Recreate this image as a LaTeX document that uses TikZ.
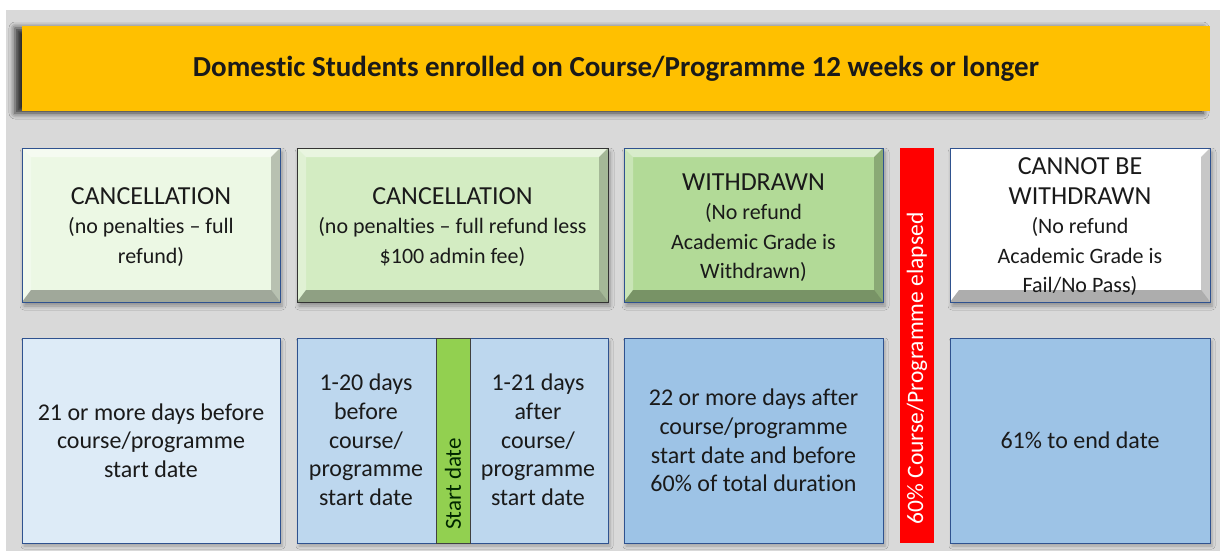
\documentclass[tikz,border=0pt]{standalone}
\usepackage{fontspec}
\setmainfont{Carlito}[Ligatures={NoCommon}]
\usetikzlibrary{shadows.blur,calc}
\definecolor{bggray}{HTML}{D9D9D9}
\definecolor{gold}{HTML}{FFC000}
\definecolor{gA}{HTML}{ECF8E4}
\definecolor{gB}{HTML}{D3ECC2}
\definecolor{gC}{HTML}{B2DA97}
\definecolor{bA}{HTML}{DDEBF7}
\definecolor{bB}{HTML}{BDD7EE}
\definecolor{bC}{HTML}{9DC3E6}
\definecolor{bordblue}{HTML}{2F528F}
\definecolor{strip}{HTML}{92D050}
\definecolor{txt}{HTML}{1A1A1A}
\newcommand\mybevel[1]{%
  \fill[white,opacity=.5] (#1.north west) -- (#1.north east) -- ($(#1.north east)+(-9,9)$) -- ($(#1.north west)+(9,9)$) -- cycle;
  \fill[white,opacity=.3] (#1.north west) -- (#1.south west) -- ($(#1.south west)+(9,-12)$) -- ($(#1.north west)+(9,9)$) -- cycle;
  \fill[black,opacity=.22] (#1.north east) -- (#1.south east) -- ($(#1.south east)+(-9,-12)$) -- ($(#1.north east)+(-9,9)$) -- cycle;
  \fill[black,opacity=.32] (#1.south west) -- (#1.south east) -- ($(#1.south east)+(-9,-12)$) -- ($(#1.south west)+(9,-12)$) -- cycle;
}
\tikzset{
  titlebox/.style={fill=gold, outer sep=0pt, inner sep=0pt,
    blur shadow={shadow xshift=-7pt, shadow yshift=-2pt, shadow blur radius=6pt, shadow opacity=80},
    font=\fontsize{29}{34}\selectfont\bfseries, text=txt},
  topbox/.style={draw=bordblue, line width=1pt, outer sep=0pt, inner sep=0pt,
    minimum height=154,
    blur shadow={shadow xshift=2pt, shadow yshift=-4pt, shadow blur radius=4pt, shadow opacity=35}},
  toptext/.style={align=center, text=txt, inner sep=0pt, font=\fontsize{22}{29.5}\selectfont},
  lowbox/.style={draw=bordblue, line width=1pt, outer sep=0pt, inner sep=0pt,
    minimum height=205, align=center, text=txt,
    blur shadow={shadow xshift=2pt, shadow yshift=-3pt, shadow blur radius=3pt, shadow opacity=25},
    font=\fontsize{24}{28.7}\selectfont},
  lowtext/.style={align=center, text=txt, font=\fontsize{24}{28.7}\selectfont, inner sep=0pt},
}
\newcommand\hdg[1]{{\fontsize{26}{30}\selectfont #1}}
\begin{document}
\begin{tikzpicture}[x=1pt,y=-1pt]
\useasboundingbox (0,0) rectangle (1220,551);
\fill[white] (0,0) rectangle (1220,551);
\fill[bggray] (6,10) rectangle (1220,551);

\node[titlebox, minimum width=1188, minimum height=85] (title) at (616,68.5)
  {Domestic Students enrolled on Course/Programme 12 weeks or longer};

% top row boxes
\node[topbox, fill=gA, minimum width=258] (t1) at (151,225) {};
\node[topbox, fill=gB, draw=black!80, minimum width=311] (t2) at (452.5,225) {};
\node[topbox, fill=gC, minimum width=259] (t3) at (753.5,225) {};
\node[topbox, fill=white, minimum width=260] (t4) at (1080,225) {};
\mybevel{t1}\mybevel{t2}\mybevel{t3}\mybevel{t4}
\draw[bordblue, line width=1pt] (t1.north west) rectangle (t1.south east);
\draw[black!80, line width=1pt] (t2.north west) rectangle (t2.south east);
\draw[bordblue, line width=1pt] (t3.north west) rectangle (t3.south east);
\draw[bordblue, line width=1pt] (t4.north west) rectangle (t4.south east);
% top row texts
\node[toptext] (t1x) at (151,227) {\hdg{CANCELLATION}\\(no penalties -- full\\refund)};
\node[toptext] (t2x) at (452.5,227) {\hdg{CANCELLATION}\\(no penalties -- full refund less\\\$100 admin fee)};
\node[toptext] (t3x) at (753.5,227.5) {\hdg{WITHDRAWN}\\(No refund\\Academic Grade is\\Withdrawn)};
\node[toptext] (t4x) at (1080,227) {\hdg{CANNOT BE}\\\hdg{WITHDRAWN}\\(No refund\\Academic Grade is\\Fail/No Pass)};

% bottom row
\node[lowbox, fill=bA, minimum width=258] (b1) at (151,440.5)
  {21 or more days before\\course/programme\\start date};
\node[lowbox, fill=bB, minimum width=311] (b2) at (452.5,440.5) {};
\node[draw=black!75, line width=1pt, fill=strip, minimum width=34, minimum height=205, inner sep=0pt, outer sep=0pt] (sd) at (453,440.5) {};
\node[lowtext, rotate=90, font=\fontsize{23}{27}\selectfont, text=black!85!green] (sdt) at (453,484) {Start date};
\node[lowtext] (b2l) at (366,440) {1-20 days\\before\\course/\\programme\\start date};
\node[lowtext] (b2r) at (538,440) {1-21 days\\after\\course/\\programme\\start date};
\node[lowbox, fill=bC, minimum width=259] (b3) at (753.5,440.5)
  {22 or more days after\\course/programme\\start date and before\\60\% of total duration};
\node[lowbox, fill=bC, minimum width=260] (b4) at (1080,440.5) {61\% to end date};

% red bar
\node[fill=red, minimum width=34, minimum height=395, inner sep=0pt, outer sep=0pt] (rb) at (917,345.5) {};
\node[rotate=90, text=white, font=\fontsize{23.5}{28}\selectfont, inner sep=0pt] (rbt) at (917,368.5) {60\% Course/Programme elapsed};
\end{tikzpicture}
\end{document}
